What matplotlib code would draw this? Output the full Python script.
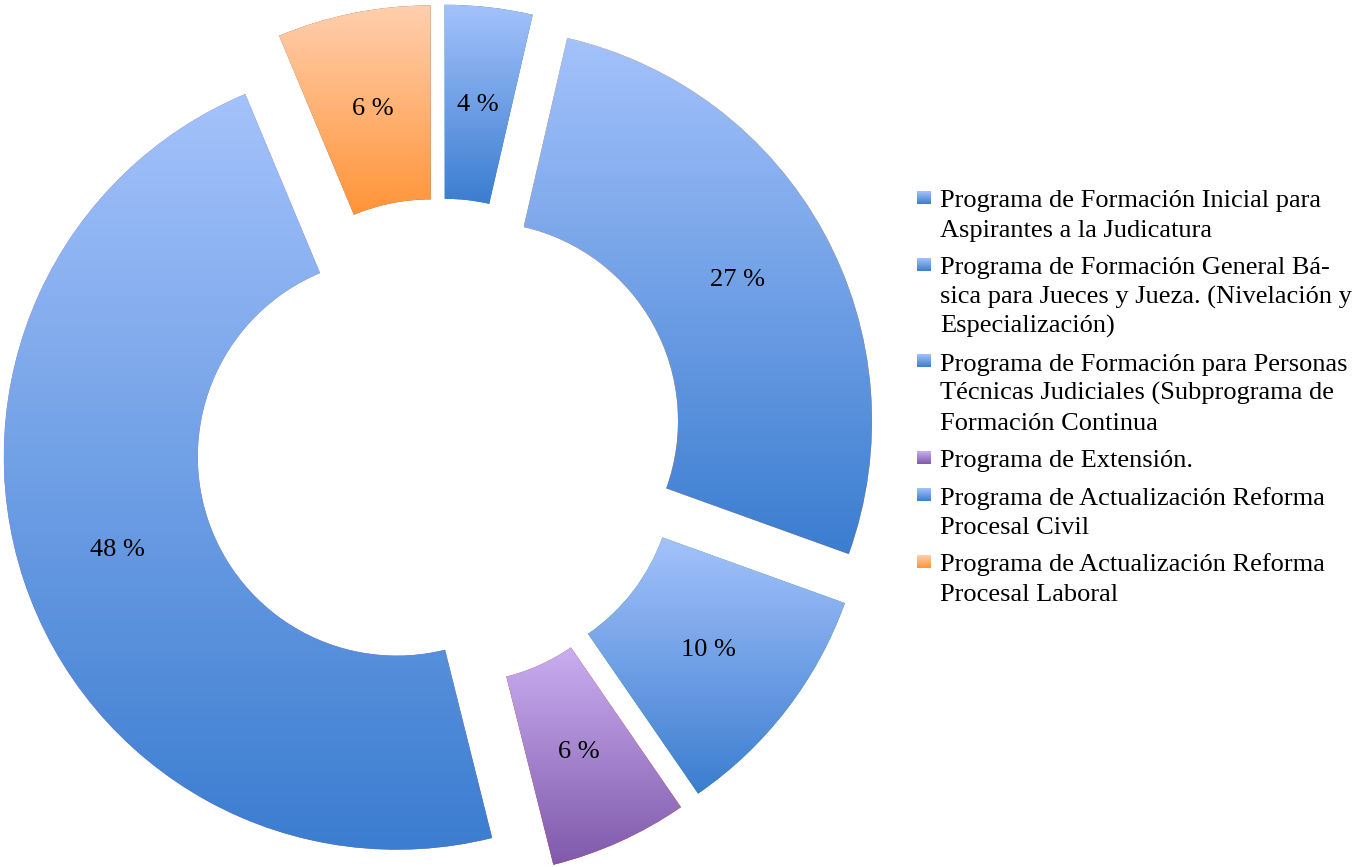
import numpy as np
import matplotlib.pyplot as plt
from matplotlib.colors import LinearSegmentedColormap

# datos
programas = [
    'Programa de Formación Inicial para\nAspirantes a la Judicatura',
    'Programa de Formación General Bá-\nsica para Jueces y Jueza. (Nivelación y\nEspecialización)',
    'Programa de Formación para Personas\nTécnicas Judiciales (Subprograma de\nFormación Continua',
    'Programa de Extensión.',
    'Programa de Actualización Reforma\nProcesal Civil',
    'Programa de Actualización Reforma\nProcesal Laboral',
]
porcentajes = [3.6, 26.9, 9.9, 5.7, 47.6, 6.3]

# colores del degradado (arriba claro, abajo oscuro)
color_arriba = ['#a4c2fb', '#a4c2fb', '#a4c2fb', '#c9aef0', '#a4c2fb', '#ffcfae']
color_abajo = ['#3b7dd0', '#3b7dd0', '#3b7dd0', '#8059ab', '#3b7dd0', '#ff9438']

fuente = 'Liberation Serif'
W, H = 1364, 867

fig = plt.figure(figsize=(W / 100, H / 100), dpi=100)
ax = fig.add_axes([0, 0, 1, 1])

wedges, textos, pcts = ax.pie(
    porcentajes, center=(439.5, H - 442.5), radius=393, startangle=90,
    counterclock=False, explode=[45] * 6,
    autopct=lambda p: f'{p:.0f} %', pctdistance=0.75,
    wedgeprops=dict(width=194, edgecolor='none'),
    textprops=dict(family=fuente, fontsize=19, color='black'),
)


def degradado(clip, x0, x1, y0, y1, abajo, arriba):
    cmap = LinearSegmentedColormap.from_list('g', [abajo, arriba])
    grad = np.linspace(0, 1, 256).reshape(-1, 1)
    im = ax.imshow(grad, cmap=cmap, origin='lower', aspect='auto',
                   extent=(x0, x1, y0, y1), zorder=1.5)
    if clip is not None:
        im.set_clip_path(clip)


# degradado vertical en cada porcion
for w, c1, c2 in zip(wedges, color_abajo, color_arriba):
    bb = w.get_path().get_extents(w.get_patch_transform())
    degradado(w, bb.x0, bb.x1, bb.y0, bb.y1, c1, c2)
for t in pcts:
    t.set_zorder(5)

# leyenda a mano (marcador alineado con la primera linea)
y = 207
for nombre, c1, c2 in zip(programas, color_abajo, color_arriba):
    degradado(None, 917, 931, H - y + 3, H - y + 16, c1, c2)
    for linea in nombre.split('\n'):
        ax.text(940, H - y, linea, family=fuente, fontsize=19, va='baseline')
        y += 29.5
    y += 8

ax.set_xlim(0, W)
ax.set_ylim(0, H)
ax.set_aspect('equal')
ax.axis('off')

fig.savefig('out.png', dpi=100)
